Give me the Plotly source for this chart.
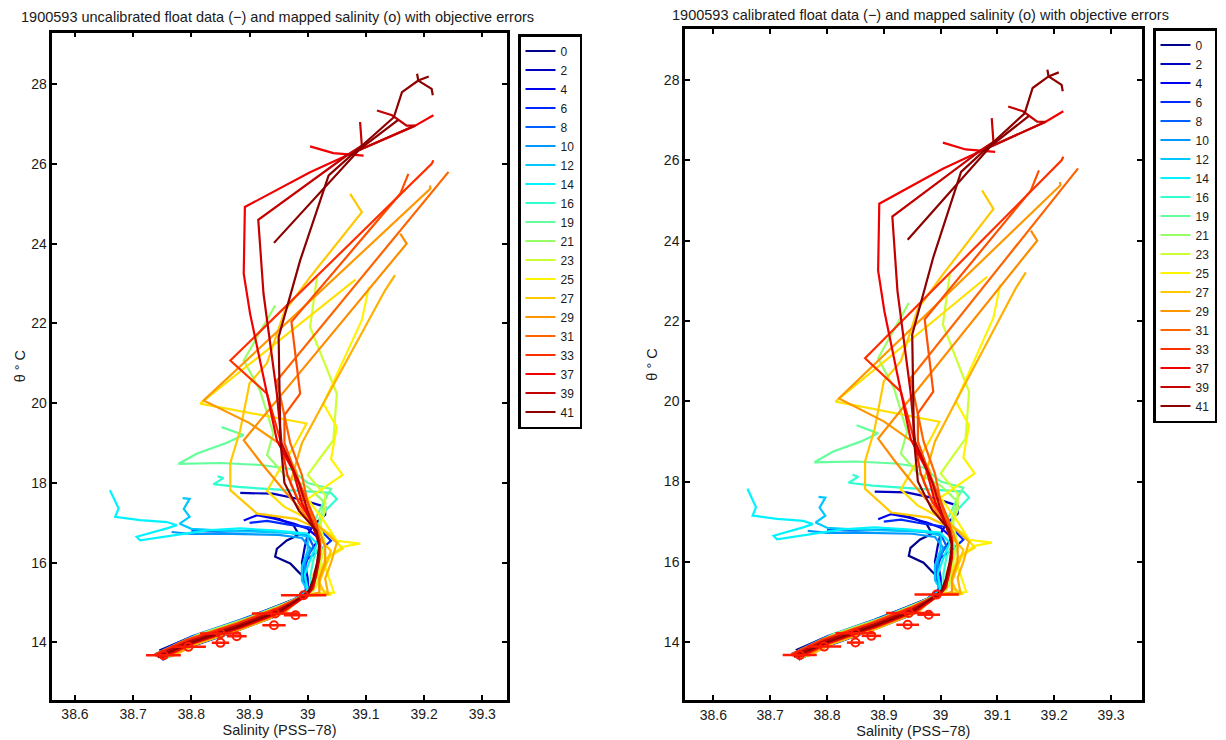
import plotly.graph_objects as go

# ---------------- data ----------------
X_TICKS = [38.6, 38.7, 38.8, 38.9, 39.0, 39.1, 39.2, 39.3]
X_TICK_LABELS = ["38.6", "38.7", "38.8", "38.9", "39", "39.1", "39.2", "39.3"]
Y_TICKS = [14, 16, 18, 20, 22, 24, 26, 28]
Y_TICK_LABELS = ["14", "16", "18", "20", "22", "24", "26", "28"]

TITLE_LEFT = "1900593 uncalibrated float data (\u2212) and mapped salinity (o) with objective errors"
TITLE_RIGHT = "1900593 calibrated float data (\u2212) and mapped salinity (o) with objective errors"
X_LABEL = "Salinity (PSS\u221278)"
Y_LABEL = "\u03b8 \u00b0 C"

S_P00 = [38.92, 38.95, 38.975, 38.985, 38.964, 38.947, 38.944, 38.97, 38.984, 38.999, 39.0, 38.98, 38.945, 38.875, 38.79, 38.745]
T_P00 = [17.2, 17.1, 16.95, 16.7, 16.56, 16.35, 16.15, 15.98, 15.77, 15.56, 15.3, 15.1, 14.9, 14.5, 14.08, 13.8]

S_P02 = [38.884, 38.94, 38.99, 39.03, 39.03, 39.01, 39.0, 38.995, 38.99, 38.995, 38.997, 38.985, 38.96, 38.892, 38.81, 38.755]
T_P02 = [17.75, 17.73, 17.58, 17.4, 17.2, 16.95, 16.7, 16.4, 16.0, 15.6, 15.3, 15.15, 14.75, 14.38, 13.98, 13.64]

S_P04 = [38.89, 38.913, 38.941, 38.976, 39.0, 39.02, 39.005, 38.995, 39.0, 39.0, 38.99, 38.958, 38.895, 38.805, 38.76]
T_P04 = [17.06, 17.19, 17.11, 16.98, 16.85, 16.6, 16.3, 16.0, 15.6, 15.3, 15.15, 14.89, 14.52, 14.09, 13.77]

S_P06 = [38.9, 38.93, 38.97, 39.02, 39.04, 39.02, 39.0, 38.99, 39.0, 38.98, 38.946, 38.872, 38.79, 38.75]
T_P06 = [17.0, 17.05, 16.95, 16.85, 16.55, 16.3, 16.1, 15.7, 15.35, 15.12, 14.66, 14.26, 13.85, 13.56]

S_P08 = [38.8, 38.85, 38.9, 38.95, 39.0, 39.01, 38.995, 38.99, 39.0, 38.985, 38.955, 38.883, 38.8, 38.75]
T_P08 = [16.8, 16.78, 16.8, 16.78, 16.7, 16.4, 16.05, 15.7, 15.3, 15.13, 14.95, 14.56, 14.15, 13.8]

S_P10 = [38.766, 38.8, 38.85, 38.9, 38.95, 38.99, 39.005, 38.995, 38.995, 39.002, 38.993, 38.962, 38.89, 38.81, 38.757]
T_P10 = [16.77, 16.72, 16.73, 16.72, 16.7, 16.62, 16.35, 16.0, 15.6, 15.3, 15.16, 14.83, 14.43, 14.03, 13.69]

S_P12 = [38.785, 38.797, 38.787, 38.797, 38.78, 38.8, 38.86, 38.92, 38.97, 39.0, 39.0, 38.99, 38.99, 39.0, 38.982, 38.948, 38.876, 38.792, 38.738]
T_P12 = [17.62, 17.6, 17.35, 17.15, 16.98, 16.85, 16.8, 16.78, 16.75, 16.65, 16.3, 15.9, 15.55, 15.3, 15.12, 14.86, 14.47, 14.06, 13.71]

S_P14 = [38.66, 38.675, 38.669, 38.712, 38.758, 38.775, 38.758, 38.706, 38.712, 38.769, 38.827, 38.884, 38.941, 38.999, 39.016, 39.005, 38.995, 39.0, 38.99, 38.957, 38.887, 38.803, 38.755]
T_P14 = [17.82, 17.36, 17.15, 17.07, 17.02, 16.94, 16.86, 16.65, 16.56, 16.69, 16.81, 16.86, 16.81, 16.73, 16.48, 16.1, 15.7, 15.32, 15.15, 14.74, 14.35, 13.94, 13.6]

S_P16 = [38.845, 38.855, 38.838, 38.88, 38.93, 38.99, 39.04, 39.05, 39.03, 39.02, 39.015, 39.02, 39.01, 39.005, 39.005, 38.99, 38.952, 38.88, 38.796, 38.744]
T_P16 = [18.17, 18.12, 17.97, 17.9, 17.85, 17.8, 17.75, 17.6, 17.3, 17.0, 16.7, 16.45, 16.1, 15.7, 15.35, 15.15, 14.82, 14.43, 14.02, 13.67]

S_P19 = [38.852, 38.89, 38.86, 38.81, 38.778, 38.85, 38.92, 38.97, 39.0, 39.04, 39.03, 39.02, 39.01, 39.02, 39.025, 39.015, 39.01, 39.005, 38.995, 38.96, 38.893, 38.806, 38.758]
T_P19 = [19.4, 19.2, 19.0, 18.74, 18.48, 18.5, 18.45, 18.35, 18.0, 17.85, 17.6, 17.3, 17.0, 16.6, 16.3, 15.9, 15.5, 15.25, 15.17, 14.8, 14.41, 14.0, 13.65]

S_P21 = [38.944, 38.89, 38.918, 38.941, 38.93, 38.96, 39.0, 39.03, 39.02, 39.025, 39.03, 39.02, 39.015, 39.01, 38.997, 38.963, 38.897, 38.812, 38.762]
T_P21 = [22.45, 21.07, 20.32, 19.24, 18.7, 18.2, 17.9, 17.5, 17.1, 16.7, 16.4, 16.0, 15.6, 15.3, 15.2, 14.99, 14.61, 14.2, 13.85]

S_P23 = [39.016, 39.004, 39.05, 39.044, 39.02, 39.0, 39.03, 39.03, 39.02, 39.03, 39.025, 39.02, 39.015, 39.0, 38.958, 38.888, 38.803, 38.752]
T_P23 = [23.16, 21.91, 20.24, 19.07, 18.6, 18.2, 17.7, 17.3, 16.9, 16.5, 16.2, 15.8, 15.4, 15.2, 14.83, 14.43, 14.01, 13.66]

S_P25 = [39.105, 39.093, 39.027, 39.05, 39.04, 39.06, 39.0, 39.03, 39.05, 39.09, 39.06, 39.04, 39.03, 39.04, 39.045, 39.0, 38.965, 38.9, 38.815, 38.765]
T_P25 = [22.91, 22.08, 19.99, 19.4, 18.6, 18.2, 17.6, 17.0, 16.55, 16.48, 16.4, 16.2, 15.9, 15.5, 15.25, 15.22, 14.97, 14.59, 14.17, 13.82]

S_P26 = [39.082, 38.815, 38.998, 38.98, 38.95, 38.93, 38.96, 39.0, 39.04, 39.06, 39.03, 39.02, 39.02, 39.04, 38.99, 38.952, 38.884, 38.8, 38.752]
T_P26 = [23.1, 19.99, 19.49, 19.0, 18.3, 17.8, 17.4, 17.1, 16.7, 16.35, 16.1, 15.7, 15.35, 15.2, 15.17, 14.72, 14.33, 13.92, 13.59]

S_P27 = [39.073, 39.093, 39.004, 38.96, 38.93, 38.9, 38.884, 38.867, 38.867, 38.913, 38.98, 39.01, 39.02, 39.04, 39.03, 39.02, 39.03, 38.993, 38.96, 38.892, 38.808, 38.756]
T_P27 = [25.25, 24.79, 23.16, 22.3, 21.0, 20.5, 19.32, 18.5, 17.82, 17.23, 17.1, 16.9, 16.6, 16.3, 15.9, 15.5, 15.22, 15.18, 14.9, 14.51, 14.1, 13.75]

S_P28 = [39.15, 39.133, 39.027, 38.99, 38.97, 38.99, 39.02, 39.05, 39.04, 39.03, 39.035, 38.99, 38.962, 38.895, 38.81, 38.765]
T_P28 = [23.21, 22.83, 20.0, 19.0, 18.0, 17.4, 16.9, 16.5, 16.0, 15.6, 15.22, 15.17, 14.76, 14.38, 13.97, 13.64]

S_P29 = [39.21, 39.211, 38.821, 38.9, 38.95, 38.98, 38.99, 39.0, 39.02, 39.03, 39.03, 39.02, 39.02, 38.99, 38.95, 38.878, 38.793, 38.742]
T_P29 = [25.46, 25.38, 20.07, 19.5, 19.0, 18.3, 17.7, 17.2, 16.8, 16.4, 16.0, 15.6, 15.25, 15.15, 14.88, 14.49, 14.08, 13.73]

S_P30 = [39.159, 39.17, 38.89, 38.92, 38.96, 38.99, 39.01, 39.02, 39.02, 39.01, 39.01, 38.995, 38.958, 38.888, 38.803, 38.752]
T_P30 = [24.25, 24.0, 19.07, 18.5, 17.8, 17.3, 16.9, 16.5, 16.1, 15.7, 15.35, 15.17, 14.8, 14.4, 13.99, 13.64]

S_P31 = [39.242, 38.947, 38.97, 38.99, 39.0, 39.01, 39.02, 39.02, 39.015, 39.01, 39.0, 38.952, 38.88, 38.795, 38.738]
T_P31 = [25.8, 20.57, 19.0, 18.2, 17.5, 17.0, 16.6, 16.2, 15.8, 15.4, 15.2, 14.83, 14.44, 14.03, 13.66]

S_P32 = [39.173, 39.159, 38.972, 38.987, 38.96, 38.96, 38.98, 39.0, 39.015, 39.02, 39.02, 39.015, 39.01, 39.0, 38.96, 38.89, 38.805, 38.755]
T_P32 = [25.75, 25.25, 22.04, 20.24, 19.7, 19.0, 18.2, 17.5, 17.0, 16.6, 16.2, 15.8, 15.4, 15.2, 14.78, 14.39, 13.98, 13.63]

S_P33 = [39.216, 39.213, 38.867, 38.93, 38.953, 38.965, 38.985, 39.01, 39.02, 39.02, 39.015, 39.01, 39.0, 38.948, 38.878, 38.792, 38.737]
T_P33 = [26.09, 26.0, 21.07, 20.24, 19.07, 18.2, 17.5, 17.0, 16.6, 16.2, 15.8, 15.45, 15.22, 14.86, 14.47, 14.06, 13.7]

S_P37 = [39.216, 39.185, 39.067, 39.004, 38.892, 38.89, 38.901, 38.925, 38.947, 38.975, 38.99, 39.01, 39.02, 39.02, 39.015, 39.008, 38.998, 38.956, 38.887, 38.8, 38.748,
         None, 39.004, 39.044, 39.096]
T_P37 = [27.22, 26.96, 26.21, 25.79, 24.92, 23.25, 22.24, 20.6, 19.07, 18.3, 17.5, 16.9, 16.5, 16.1, 15.7, 15.35, 15.18, 14.77, 14.39, 13.97, 13.61,
         None, 26.44, 26.27, 26.21]

S_P39 = [39.119, 39.145, 39.17, 39.185, 39.067, 38.915, 38.924, 38.947, 38.955, 38.985, 39.0, 39.012, 39.02, 39.018, 39.012, 39.006, 38.996, 38.95, 38.88, 38.794, 38.74,
         None, 39.09, 39.093, 39.062]
T_P39 = [27.34, 27.22, 26.96, 26.96, 26.21, 24.60, 22.75, 20.24, 19.0, 18.0, 17.3, 16.8, 16.45, 16.05, 15.65, 15.33, 15.16, 14.82, 14.43, 14.02, 13.67,
         None, 27.05, 26.46, 26.17]

S_P41 = [39.208, 39.19, 39.162, 39.148, 39.036, 38.987, 38.95, 38.953, 38.96, 38.985, 39.015, 39.02, 39.016, 39.01, 39.002, 38.99, 38.953, 38.884, 38.798, 38.742,
         None, 39.215, 39.213, 39.19, 39.188,
         None, 38.942, 39.09, 39.155]
T_P41 = [28.19, 28.09, 27.8, 27.17, 25.71, 23.58, 21.66, 19.07, 18.0, 17.3, 16.8, 16.4, 16.0, 15.6, 15.3, 15.15, 14.79, 14.41, 13.99, 13.63,
         None, 27.72, 27.88, 28.09, 28.26,
         None, 24.02, 26.38, 27.1]

# mapped salinity with objective errors
MAP_S = [38.993, 38.944, 38.979, 38.942, 38.878, 38.85, 38.85, 38.795, 38.752]
MAP_T = [15.185, 14.726, 14.684, 14.433, 14.157, 14.224, 13.99, 13.89, 13.68]
MAP_ERR = [0.039, 0.04, 0.02, 0.02, 0.017, 0.035, 0.015, 0.03, 0.03]

# (label, S, T, colour, in legend)
PROFILES = [
    ("0", S_P00, T_P00, "#00008C", True),
    ("2", S_P02, T_P02, "#0000C0", True),
    ("4", S_P04, T_P04, "#0000F0", True),
    ("6", S_P06, T_P06, "#0028FF", True),
    ("8", S_P08, T_P08, "#0060FF", True),
    ("10", S_P10, T_P10, "#0098FF", True),
    ("12", S_P12, T_P12, "#00C8FF", True),
    ("14", S_P14, T_P14, "#00F4FF", True),
    ("16", S_P16, T_P16, "#30FFD0", True),
    ("19", S_P19, T_P19, "#64FF9C", True),
    ("21", S_P21, T_P21, "#98FF68", True),
    ("23", S_P23, T_P23, "#CCFF34", True),
    ("25", S_P25, T_P25, "#FFF400", True),
    ("26", S_P26, T_P26, "#FFE000", False),
    ("27", S_P27, T_P27, "#FFC800", True),
    ("28", S_P28, T_P28, "#FFB000", False),
    ("29", S_P29, T_P29, "#FF9800", True),
    ("30", S_P30, T_P30, "#FF8C00", False),
    ("31", S_P31, T_P31, "#FF6400", True),
    ("32", S_P32, T_P32, "#FF5000", False),
    ("33", S_P33, T_P33, "#FF3000", True),
    ("37", S_P37, T_P37, "#F00000", True),
    ("39", S_P39, T_P39, "#C40000", True),
    ("41", S_P41, T_P41, "#8C0000", True),
]

MAP_COLOR = "#FF1A00"

# ---------------- figure ----------------
W, H = 1226, 740
fig = go.Figure()

panels = [
    dict(xa="x", ya="y", legend="legend"),
    dict(xa="x2", ya="y2", legend="legend2"),
]

for p in panels:
    for name, s, t, col, inleg in PROFILES:
        fig.add_trace(go.Scatter(
            x=s, y=t, mode="lines", name=name,
            line=dict(color=col, width=2.2),
            connectgaps=False, showlegend=inleg,
            xaxis=p["xa"], yaxis=p["ya"], legend=p["legend"],
        ))
    fig.add_trace(go.Scatter(
        x=MAP_S, y=MAP_T, mode="markers", showlegend=False,
        marker=dict(symbol="circle-open", size=8, color=MAP_COLOR, line=dict(width=2, color=MAP_COLOR)),
        error_x=dict(type="data", array=MAP_ERR, visible=True, color=MAP_COLOR, thickness=2.5, width=0),
        xaxis=p["xa"], yaxis=p["ya"],
    ))

FONT = "Liberation Sans, Arial, sans-serif"
TXT = "#1a1a1a"

def px_x(v):
    return v / W

def px_y(v):
    return 1 - v / H

axis_common = dict(
    showline=True, linecolor="black", linewidth=2.5, mirror="ticks",
    ticks="inside", ticklen=5, tickwidth=2, tickcolor="black",
    showgrid=False, zeroline=False,
    tickfont=dict(family=FONT, size=14, color=TXT),
)

fig.update_layout(
    width=W, height=H,
    margin=dict(l=0, r=0, t=0, b=0),
    paper_bgcolor="white", plot_bgcolor="white",
    font=dict(family=FONT, size=14, color=TXT),
    xaxis=dict(domain=[px_x(52.3), px_x(506.7)], range=[38.561, 39.342], anchor="y",
               tickvals=X_TICKS, ticktext=X_TICK_LABELS,
               title=dict(text=X_LABEL, standoff=2, font=dict(family=FONT, size=14.5, color=TXT)), **axis_common),
    yaxis=dict(domain=[px_y(699.5), px_y(32.7)], range=[12.57, 29.29], anchor="x",
               tickvals=Y_TICKS, ticktext=Y_TICK_LABELS,
               title=dict(text=Y_LABEL, standoff=3, font=dict(family=FONT, size=14.5, color=TXT)), **axis_common),
    xaxis2=dict(domain=[px_x(685), px_x(1141.7)], range=[38.55, 39.354], anchor="y2",
                tickvals=X_TICKS, ticktext=X_TICK_LABELS,
                title=dict(text=X_LABEL, standoff=2, font=dict(family=FONT, size=14.5, color=TXT)), **axis_common),
    yaxis2=dict(domain=[px_y(700), px_y(29)], range=[12.56, 29.27], anchor="x2",
                tickvals=Y_TICKS, ticktext=Y_TICK_LABELS,
                title=dict(text=Y_LABEL, standoff=3, font=dict(family=FONT, size=14.5, color=TXT)), **axis_common),
    legend=dict(x=px_x(518), y=px_y(34), xanchor="left", yanchor="top",
                bgcolor="white", bordercolor="black", borderwidth=2.5,
                font=dict(family=FONT, size=12, color=TXT),
                itemwidth=30, tracegroupgap=0),
    legend2=dict(x=px_x(1153), y=px_y(28), xanchor="left", yanchor="top",
                 bgcolor="white", bordercolor="black", borderwidth=2.5,
                 font=dict(family=FONT, size=12, color=TXT),
                 itemwidth=30, tracegroupgap=0),
    annotations=[
        dict(text=TITLE_LEFT, x=px_x(277.5), y=px_y(16.7), xref="paper", yref="paper",
             xanchor="center", yanchor="middle", showarrow=False,
             font=dict(family=FONT, size=14.5, color=TXT)),
        dict(text=TITLE_RIGHT, x=px_x(920), y=px_y(15), xref="paper", yref="paper",
             xanchor="center", yanchor="middle", showarrow=False,
             font=dict(family=FONT, size=14.5, color=TXT)),
    ],
)

fig.write_html("out.html", config={"displayModeBar": False},
               post_script="document.body.style.margin='0';")
